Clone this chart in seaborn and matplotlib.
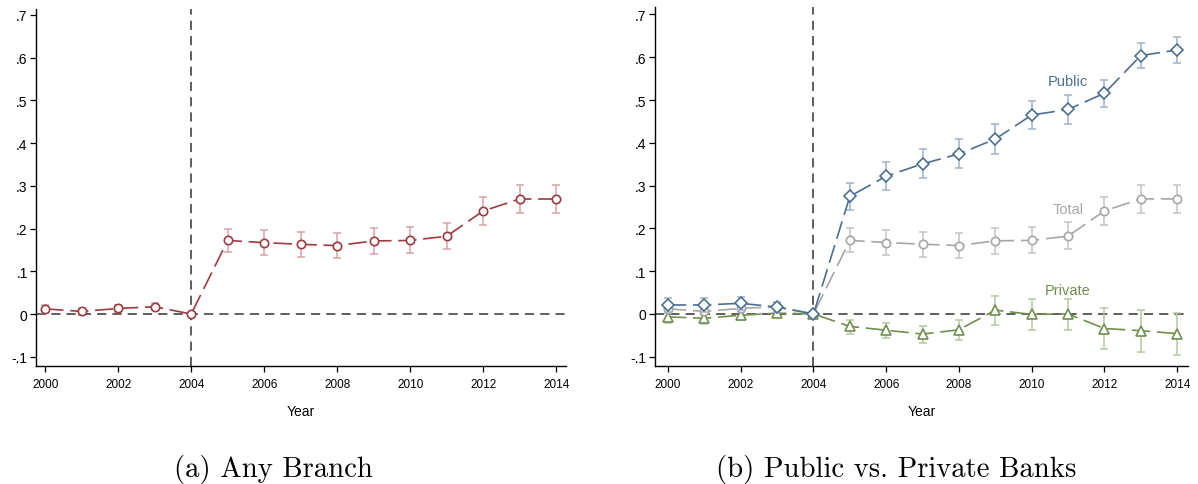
import numpy as np
import pandas as pd
import matplotlib
matplotlib.use("Agg")
import matplotlib.pyplot as plt
import seaborn as sns

# ---------------- data ----------------
years = [2000, 2001, 2002, 2003, 2004, 2005, 2006, 2007, 2008, 2009, 2010, 2011, 2012, 2013, 2014]

total = [0.012, 0.006, 0.013, 0.017, 0.0, 0.172, 0.167, 0.163, 0.160, 0.171, 0.172, 0.182, 0.241, 0.269, 0.269]
total_hi = [0.021, 0.015, 0.022, 0.025, 0.0, 0.200, 0.197, 0.192, 0.190, 0.201, 0.204, 0.214, 0.273, 0.301, 0.302]
total_lo = [0.003, -0.003, 0.004, 0.009, 0.0, 0.144, 0.139, 0.134, 0.130, 0.141, 0.142, 0.151, 0.209, 0.237, 0.237]

public = [0.021, 0.021, 0.025, 0.016, 0.0, 0.275, 0.322, 0.351, 0.374, 0.409, 0.465, 0.478, 0.516, 0.604, 0.617]
public_hi = [0.037, 0.037, 0.040, 0.027, 0.0, 0.307, 0.355, 0.385, 0.408, 0.443, 0.498, 0.512, 0.548, 0.634, 0.647]
public_lo = [0.005, 0.005, 0.010, 0.005, 0.0, 0.243, 0.289, 0.318, 0.341, 0.375, 0.432, 0.445, 0.484, 0.574, 0.587]

private = [-0.007, -0.010, -0.003, 0.002, 0.0, -0.029, -0.038, -0.047, -0.037, 0.009, -0.001, 0.000, -0.034, -0.039, -0.046]
private_hi = [0.005, 0.003, 0.008, 0.010, 0.0, -0.013, -0.021, -0.028, -0.014, 0.043, 0.035, 0.036, 0.013, 0.010, 0.003]
private_lo = [-0.020, -0.024, -0.015, -0.008, 0.0, -0.046, -0.057, -0.068, -0.061, -0.025, -0.038, -0.037, -0.082, -0.088, -0.096]

xtick_vals = [2000, 2002, 2004, 2006, 2008, 2010, 2012, 2014]
xtick_labels = ["2000", "2002", "2004", "2006", "2008", "2010", "2012", "2014"]
ytick_vals = [-0.1, 0.0, 0.1, 0.2, 0.3, 0.4, 0.5, 0.6, 0.7]
ytick_labels = ["-.1", "0", ".1", ".2", ".3", ".4", ".5", ".6", ".7"]

series_labels = ["Public", "Total", "Private"]
captions = ["(a) Any Branch", "(b) Public vs. Private Banks"]

# ---------------- style ----------------
sns.set_theme(style="ticks")
plt.rcParams["font.family"] = ["Liberation Sans", "DejaVu Sans"]
plt.rcParams["text.color"] = "black"
plt.rcParams["axes.labelcolor"] = "black"
plt.rcParams["xtick.color"] = "black"
plt.rcParams["ytick.color"] = "black"

RED = "#9b3b40"
RED_L = "#d4a3a6"
BLUE = "#4b6f93"
BLUE_L = "#9fb3c8"
GREY = "#a6a6a6"
GREY_L = "#c4c4c4"
GREEN = "#708f4f"
GREEN_L = "#b5c8a0"

DASH = (0, (11, 4))

fig = plt.figure(figsize=(11.98, 4.85), dpi=100)
axL = fig.add_axes([0.0301, 0.2433, 0.4424, 0.7361])
axR = fig.add_axes([0.5467, 0.2433, 0.4450, 0.7402])


def draw_series(ax, vals, hi, lo, color, light, marker, ms, z):
    df = pd.DataFrame({"year": years, "val": vals})
    v = np.array(vals)
    ax.errorbar(years, vals, yerr=[v - np.array(lo), np.array(hi) - v], fmt="none",
                ecolor=light, elinewidth=1.1, capsize=2.6, capthick=1.1, zorder=z)
    sns.lineplot(data=df, x="year", y="val", ax=ax, color=color, linewidth=1.2,
                 linestyle=DASH, marker=marker, markersize=ms, markerfacecolor="white",
                 markeredgecolor=color, markeredgewidth=1.2, zorder=z + 1)


def style_axes(ax, xlim, ylim):
    ax.axhline(0, color="#333333", linewidth=1.1, linestyle=(0, (6, 4)), zorder=1)
    ax.axvline(2004, color="#333333", linewidth=1.1, linestyle=(0, (6, 4)), zorder=1)
    ax.set_xlim(*xlim)
    ax.set_ylim(*ylim)
    ax.set_xticks(xtick_vals, xtick_labels)
    ax.set_yticks(ytick_vals, ytick_labels)
    ax.tick_params(axis="x", labelsize=8.5, length=4, width=0.9, color="black",
                   labelcolor="black", pad=4.5)
    ax.tick_params(axis="y", labelsize=10, length=4, width=0.9, color="black",
                   labelcolor="black", pad=2)
    for s in ["top", "right"]:
        ax.spines[s].set_visible(False)
    for s in ["left", "bottom"]:
        ax.spines[s].set_color("black")
        ax.spines[s].set_linewidth(1.0)
    ax.set_xlabel("Year", fontsize=10, labelpad=10, color="black")
    ax.set_ylabel("")
    ax.grid(False)


# left panel
draw_series(axL, total, total_hi, total_lo, RED, RED_L, "o", 6, 3)
style_axes(axL, (1999.75, 2014.27), (-0.1216, 0.7135))

# right panel
draw_series(axR, private, private_hi, private_lo, GREEN, GREEN_L, "^", 7, 3)
draw_series(axR, total, total_hi, total_lo, GREY, GREY_L, "o", 6, 5)
draw_series(axR, public, public_hi, public_lo, BLUE, BLUE_L, "D", 5.8, 7)
style_axes(axR, (1999.64, 2014.30), (-0.1216, 0.7175))

axR.text(2011.0, 0.545, series_labels[0], color=BLUE, fontsize=10.5, ha="center", va="center")
axR.text(2011.0, 0.246, series_labels[1], color=GREY, fontsize=10.5, ha="center", va="center")
axR.text(2011.0, 0.056, series_labels[2], color=GREEN, fontsize=10.5, ha="center", va="center")

fig.text(273.5 / 1198, 0.0165, captions[0], fontsize=20.7, family="cmr10", color="black",
         ha="center", va="baseline")
fig.text(896.5 / 1198, 0.0165, captions[1], fontsize=20.7, family="cmr10", color="black",
         ha="center", va="baseline")

fig.savefig("out.png", dpi=100)
